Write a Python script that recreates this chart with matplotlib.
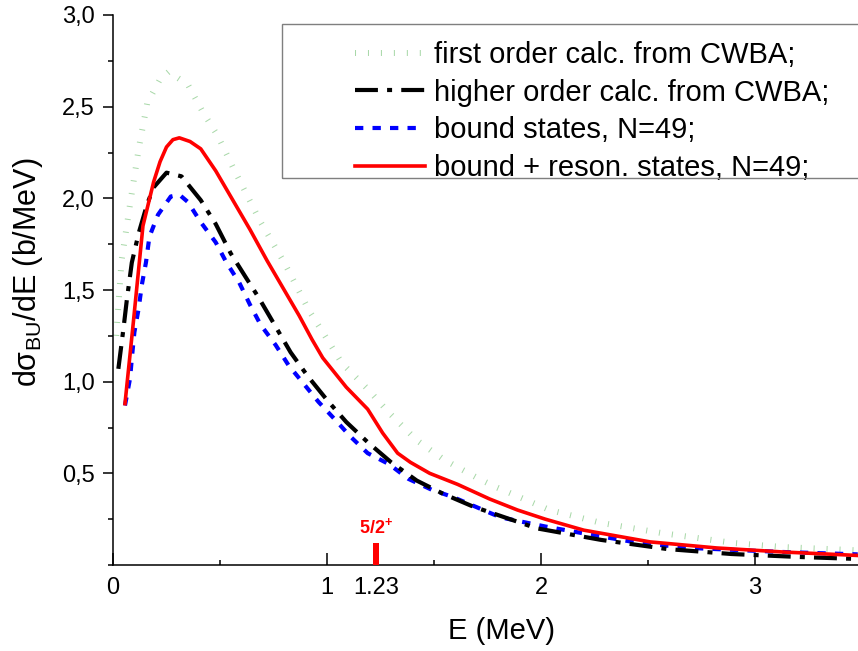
import numpy as np
import matplotlib
matplotlib.use('Agg')
import matplotlib.pyplot as plt
from matplotlib.ticker import MultipleLocator, FuncFormatter
from matplotlib.patches import Rectangle

plt.rcParams['font.family'] = ['Liberation Sans', 'DejaVu Sans']
plt.rcParams['mathtext.fontset'] = 'custom'
plt.rcParams['mathtext.rm'] = 'Liberation Sans'
plt.rcParams['mathtext.it'] = 'Liberation Sans:italic'
plt.rcParams['mathtext.bf'] = 'Liberation Sans:bold'

# first order calc. from CWBA
e_first = [0.015, 0.04, 0.08, 0.12, 0.16, 0.22, 0.26, 0.35, 0.42, 0.49, 0.56, 0.69, 0.80,
           0.92, 0.98, 1.07, 1.19, 1.29, 1.42, 1.54, 1.60, 1.71, 1.78, 2.04, 2.28, 2.56,
           2.90, 3.13, 3.48]
s_first = [1.25, 1.66, 1.97, 2.27, 2.52, 2.65, 2.69, 2.62, 2.47, 2.34, 2.17, 1.87, 1.65,
           1.38, 1.27, 1.10, 0.96, 0.83, 0.68, 0.58, 0.54, 0.47, 0.43, 0.30, 0.23, 0.175,
           0.12, 0.098, 0.08]

# higher order calc. from CWBA
e_higher = [0.025, 0.05, 0.065, 0.088, 0.12, 0.16, 0.19, 0.25, 0.32, 0.41, 0.48, 0.55, 0.62,
            0.68, 0.75, 0.83, 0.91, 1.0, 1.09, 1.19, 1.30, 1.42, 1.54, 1.68, 1.98, 2.28,
            2.59, 2.89, 3.2, 3.48]
s_higher = [1.07, 1.30, 1.45, 1.65, 1.81, 1.97, 2.06, 2.14, 2.12, 1.99, 1.86, 1.70, 1.57,
            1.46, 1.32, 1.16, 1.03, 0.90, 0.78, 0.67, 0.56, 0.46, 0.39, 0.32, 0.20, 0.137,
            0.087, 0.06, 0.044, 0.033]

# bound states, N=49
e_bound = [0.056, 0.08, 0.089, 0.10, 0.12, 0.135, 0.154, 0.17, 0.21, 0.27, 0.31, 0.35, 0.41,
           0.48, 0.53, 0.59, 0.64, 0.69, 0.76, 0.82, 0.89, 0.96, 1.04, 1.11, 1.19, 1.29,
           1.38, 1.49, 1.59, 1.81, 2.02, 2.24, 2.46, 2.70, 2.91, 3.13, 3.48]
s_bound = [0.87, 1.02, 1.14, 1.27, 1.40, 1.53, 1.65, 1.79, 1.91, 2.01, 2.02, 1.98, 1.87,
           1.76, 1.65, 1.54, 1.42, 1.31, 1.20, 1.09, 0.99, 0.89, 0.79, 0.70, 0.61, 0.55,
           0.47, 0.41, 0.37, 0.26, 0.21, 0.164, 0.12, 0.093, 0.082, 0.071, 0.058]

# bound + reson. states, N=49
e_reson = [0.056, 0.093, 0.14, 0.19, 0.22, 0.25, 0.28, 0.31, 0.36, 0.41, 0.48, 0.56, 0.64,
           0.72, 0.80, 0.87, 0.93, 0.98, 1.09, 1.19, 1.26, 1.33, 1.39, 1.48, 1.61, 1.76,
           1.89, 2.02, 2.20, 2.51, 2.82, 3.13, 3.48]
s_reson = [0.88, 1.30, 1.85, 2.09, 2.20, 2.28, 2.32, 2.33, 2.31, 2.27, 2.15, 1.99, 1.83,
           1.66, 1.50, 1.36, 1.23, 1.13, 0.97, 0.85, 0.72, 0.61, 0.56, 0.50, 0.44, 0.36,
           0.30, 0.25, 0.19, 0.126, 0.093, 0.071, 0.052]

labels = ['first order calc. from CWBA;', 'higher order calc. from CWBA;',
          'bound states, N=49;', 'bound + reson. states, N=49;']

res_energy = 1.23
res_height = 0.12
res_label = r'$\mathbf{5/2}^{\mathbf{+}}$'

fig = plt.figure(figsize=(8.58, 6.51), dpi=100)
ax = fig.add_axes([113 / 858, 86 / 651, 749 / 858, 550 / 651])

l1, = ax.plot(e_first, s_first, color='#a8d8a8', lw=4.3, dashes=(0.17, 2.0),
              dash_capstyle='butt', zorder=2)
l3, = ax.plot(e_bound, s_bound, color='#0000ff', lw=3.0, dashes=(2.0, 2.2),
              dash_capstyle='butt', zorder=3)
l2, = ax.plot(e_higher, s_higher, color='black', lw=3.0, dashes=(5.5, 2.2, 1.2, 2.2),
              dash_capstyle='butt', zorder=4)
l4, = ax.plot(e_reson, s_reson, color='#ff0000', lw=2.6, zorder=5)

ax.bar([res_energy], [res_height], width=0.028, color='#ff0000', zorder=6)
ax.text(res_energy, res_height + 0.03, res_label, color='#ff0000', fontsize=13,
        ha='center', va='bottom')

ax.set_xlim(0, 3.5)
ax.set_ylim(0, 3.0)
ax.spines['top'].set_visible(False)
ax.spines['right'].set_visible(False)
for s in ['left', 'bottom']:
    ax.spines[s].set_linewidth(1.1)

ax.set_xticks([0, 1, res_energy, 2, 3])
ax.set_xticklabels(['0', '1', '1.23', '2', '3'])
ax.xaxis.set_minor_locator(MultipleLocator(0.5))
ax.set_yticks([0.5, 1.0, 1.5, 2.0, 2.5, 3.0])
ax.yaxis.set_major_formatter(FuncFormatter(lambda v, p: ('%.1f' % v).replace('.', ',')))
ax.yaxis.set_minor_locator(MultipleLocator(0.25))

ax.tick_params(axis='x', which='major', direction='in', length=8.6, width=1.1,
               labelsize=17, pad=9)
ax.tick_params(axis='x', which='minor', direction='in', length=3.6, width=1.1)
ax.tick_params(axis='y', which='major', direction='out', length=7.2, width=1.1,
               labelsize=17, pad=6)
ax.tick_params(axis='y', which='minor', direction='out', length=3.6, width=1.1)

fig.text(28 / 858, 1 - 272 / 651, r'dσ$_{\mathrm{BU}}$/dE (b/MeV)', rotation=90,
         ha='center', va='center', fontsize=22)
fig.text(502 / 858, 1 - 631 / 651, 'E (MeV)', ha='center', va='center', fontsize=21)

fig.patches.append(Rectangle((282 / 858, 1 - 178 / 651), 600 / 858, 154 / 651,
                             transform=fig.transFigure, fill=False, edgecolor='#7f7f7f',
                             lw=1.0, zorder=7))
fig.legend([l1, l2, l3, l4], labels, loc='upper left',
           bbox_to_anchor=(355 / 858, 1 - 41 / 651), frameon=False, fontsize=21,
           borderpad=0, borderaxespad=0, handlelength=2.4, handletextpad=0.3,
           labelspacing=0.33)

fig.savefig('out.png', dpi=100)
